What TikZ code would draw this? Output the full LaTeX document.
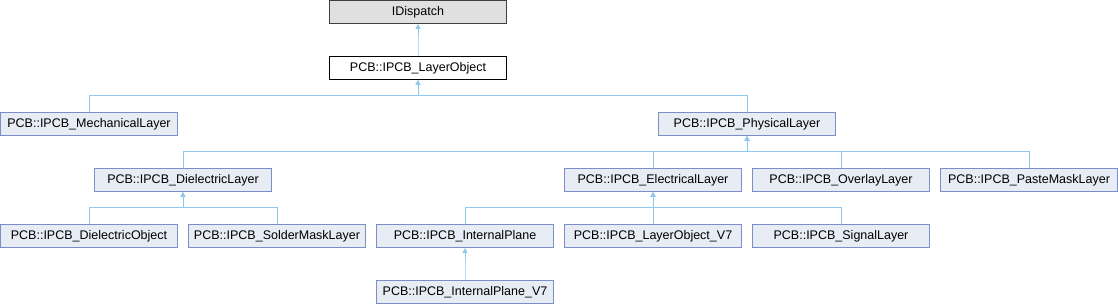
\documentclass[tikz,border=0pt]{standalone}
\usepackage{fontspec}
\setmainfont{Liberation Sans}
\usetikzlibrary{arrows.meta}
\definecolor{boxfill}{HTML}{E8ECF5}
\definecolor{boxline}{HTML}{7A8FC7}
\definecolor{inhline}{HTML}{8EC8EA}
\begin{document}
\begin{tikzpicture}[x=1pt,y=-1pt,line width=1pt,
  cls/.style={draw=boxline,fill=boxfill,minimum width=177pt,minimum height=23pt,inner sep=0pt,font=\fontsize{12.5}{15}\selectfont},
  extcls/.style={cls,draw=black!75,fill=black!12},
  curcls/.style={cls,draw=black,fill=white},
  inh/.style={draw=inhline,-{Triangle[length=5pt,width=5pt]}}]
 \useasboundingbox (0,0) rectangle (1118,304);
 \node[extcls] (idisp) at (418,12) {IDispatch};
 \node[curcls] (lobj) at (418,68) {PCB::IPCB\_LayerObject};
 \node[cls] (mech) at (89,124) {PCB::IPCB\_MechanicalLayer};
 \node[cls] (phys) at (747,124) {PCB::IPCB\_PhysicalLayer};
 \node[cls] (diel) at (183,180) {PCB::IPCB\_DielectricLayer};
 \node[cls] (elec) at (653,180) {PCB::IPCB\_ElectricalLayer};
 \node[cls] (over) at (841,180) {PCB::IPCB\_OverlayLayer};
 \node[cls] (paste) at (1029,180) {PCB::IPCB\_PasteMaskLayer};
 \node[cls] (dobj) at (89,236) {PCB::IPCB\_DielectricObject};
 \node[cls] (solder) at (277,236) {PCB::IPCB\_SolderMaskLayer};
 \node[cls] (iplane) at (465,236) {PCB::IPCB\_InternalPlane};
 \node[cls] (lobjv) at (653,236) {PCB::IPCB\_LayerObject\_V7};
 \node[cls] (sig) at (841,236) {PCB::IPCB\_SignalLayer};
 \node[cls] (iplanev) at (465,292) {PCB::IPCB\_InternalPlane\_V7};
 \foreach \c/\p in {lobj/idisp,mech/lobj,phys/lobj,diel/phys,elec/phys,over/phys,paste/phys,
   dobj/diel,solder/diel,iplane/elec,lobjv/elec,sig/elec,iplanev/iplane}
  \draw[inh] (\c.north) -- ++(0,-16) -| (\p.south);
\end{tikzpicture}
\end{document}
